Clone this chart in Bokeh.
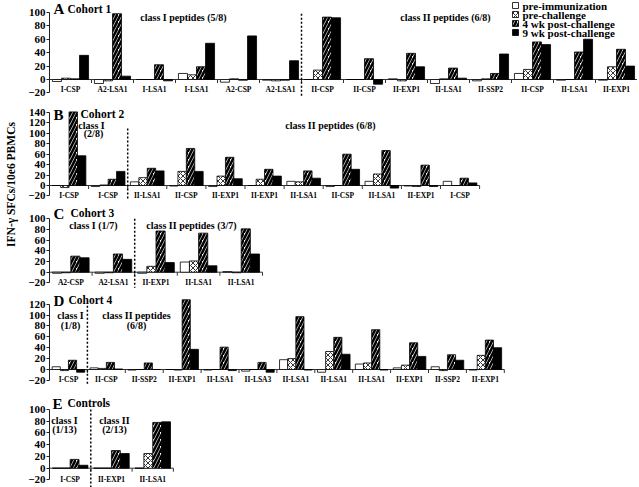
import math
from bokeh.plotting import figure
from bokeh.models import Range1d, FixedTicker, ColumnDataSource, Label
from bokeh.layouts import row, column
from bokeh.embed import file_html
from bokeh.resources import INLINE
from bokeh.core.properties import value

SERIES = ["pre-immunization", "pre-challenge", "4 wk post-challenge", "9 wk post-challenge"]
Y_LABEL = "IFN-\u03b3 SFCs/10e6 PBMCs"

# ---------------- Panel A : Cohort 1 ----------------
A_categories = ["I-CSP", "A2-LSA1", "I-LSA1", "I-LSA1", "A2-CSP", "A2-LSA1",
                "II-CSP", "II-CSP", "II-EXP1", "II-LSA1", "II-SSP2", "II-CSP", "II-LSA1", "II-EXP1"]
A_pre_immunization = [-3, -6, 0, 9, -4, -1, 0, 0, 1, -6, -2, 9, -1, -1]
A_pre_challenge = [2, -2, 0, 7, 1, -2, 14, 0, -2, 1, 1, 15, 0, 19]
A_4wk_post = [1, 98, 22, 19, -1, -1, 93, 31, 39, 17, 9, 56, 41, 45]
A_9wk_post = [36, 5, -2, 54, 65, 28, 92, -7, 19, 2, 38, 52, 60, 20]
A_class1_count = 6
A_ticks = [-20, 0, 20, 40, 60, 80, 100]

# ---------------- Panel B : Cohort 2 ----------------
B_categories = ["I-CSP", "I-CSP", "II-LSA1", "II-CSP", "II-EXP1", "II-EXP1", "II-LSA1",
                "II-CSP", "II-LSA1", "II-EXP1", "I-CSP"]
B_pre_immunization = [0, -2, 7, -1, -2, 0, 8, -2, 8, -1, 8]
B_pre_challenge = [-4, 1, 15, 27, 18, 12, 7, 0, 22, -2, 0]
B_4wk_post = [141, 12, 33, 71, 54, 31, 28, 60, 67, 39, 14]
B_9wk_post = [57, 27, 28, 27, 13, 18, 14, 31, -5, -2, 5]
B_class1_count = 2
B_ticks = [-20, 0, 20, 40, 60, 80, 100, 120, 140]

# ---------------- Panel C : Cohort 3 ----------------
C_categories = ["A2-CSP", "A2-LSA1", "II-EXP1", "II-LSA1", "II-LSA1"]
C_pre_immunization = [-2, -2, -2, 19, 1]
C_pre_challenge = [-1, -1, 11, 21, -1]
C_4wk_post = [30, 34, 77, 73, 81]
C_9wk_post = [27, 24, 18, 12, 34]
C_class1_count = 2
C_ticks = [-20, 0, 20, 40, 60, 80, 100]

# ---------------- Panel D : Cohort 4 ----------------
D_categories = ["I-CSP", "II-CSP", "II-SSP2", "II-EXP1", "II-LSA1", "II-LSA3", "II-LSA1",
                "II-LSA1", "II-LSA1", "II-EXP1", "II-SSP2", "II-EXP1"]
D_pre_immunization = [5, 3, -1, 0, -1, -3, 18, -5, 10, 3, 5, -1]
D_pre_challenge = [-2, 2, 0, -1, 0, 0, 20, 33, 12, 8, -2, 26]
D_4wk_post = [17, 13, 12, 128, 41, 13, 97, 59, 73, 49, 27, 54]
D_9wk_post = [-5, 1, 0, 37, -2, -5, -1, 28, -1, 24, 17, 40]
D_class1_count = 1
D_ticks = [-20, 0, 20, 40, 60, 80, 100, 120]

# ---------------- Panel E : Controls ----------------
E_categories = ["I-CSP", "II-EXP1", "II-LSA1"]
E_pre_immunization = [0, 0, 0]
E_pre_challenge = [0, 0, 25]
E_4wk_post = [15, 30, 78]
E_9wk_post = [5, 25, 79]
E_class1_count = 1
E_ticks = [-20, 0, 20, 40, 60, 80, 100]

FONT = "Liberation Serif"
LABEL_W = 20
AXIS_W = 29
FRAME_W = 588
LEFT = LABEL_W + AXIS_W
BAR_W = 0.215

STYLES = [
    dict(fill_color="white"),
    dict(fill_color="white", hatch_pattern="diagonal_cross", hatch_scale=5, hatch_weight=0.8, hatch_color="black"),
    dict(fill_color="white", hatch_pattern="right_diagonal_line", hatch_scale=7, hatch_weight=2.6, hatch_color="black"),
    dict(fill_color="black"),
]

# legend placement (page pixels)
LEG_X = 515
LEG_TEXT_X = 522
LEG_Y0 = 5
LEG_DY = 9


def make_panel(cats, series, ticks, n_class1, band_top, band_h, zero_y, scale, group_px,
               label_y, sep_top, sep_bottom, texts, legend=False):
    zero_top = zero_y - band_top
    top = zero_top / scale
    bottom = -(band_h - zero_top) / scale
    n = len(cats)
    p = figure(width=AXIS_W + FRAME_W, height=band_h,
               x_range=Range1d(0, FRAME_W / group_px), y_range=Range1d(bottom, top),
               output_backend="svg", toolbar_location=None,
               x_axis_location=None, y_axis_location="left",
               min_border_left=AXIS_W, min_border_right=0, min_border_top=0, min_border_bottom=0,
               outline_line_color=None)
    p.grid.visible = False
    ax = p.yaxis[0]
    ax.ticker = FixedTicker(ticks=ticks)
    ax.bounds = (ticks[0], ticks[-1])
    ax.major_tick_out = 3
    ax.major_tick_in = 0
    ax.minor_tick_out = 0
    ax.minor_tick_in = 0
    ax.major_label_standoff = 1
    ax.axis_line_color = "#222222"
    ax.major_tick_line_color = "#222222"
    ax.major_label_text_font = FONT
    ax.major_label_text_font_style = "bold"
    ax.major_label_text_font_size = "11px"
    ax.major_label_text_color = "black"

    px_x = lambda xi: (xi - LEFT) / group_px
    px_y = lambda yi: (zero_y - yi) / scale

    # baseline with group tick marks
    p.segment(x0=[0], x1=[n], y0=[0], y1=[0], line_color="#333333", line_width=1)
    p.segment(x0=list(range(n + 1)), x1=list(range(n + 1)), y0=[0] * (n + 1),
              y1=[-3.5 / scale] * (n + 1), line_color="#333333", line_width=1)

    for k, vals in enumerate(series):
        xs = [i + 0.5 + (k - 1.5) * BAR_W for i in range(n)]
        p.vbar(x=xs, top=vals, bottom=0, width=BAR_W, line_color="black",
               line_width=0.8, **STYLES[k])

    src = ColumnDataSource(dict(x=[i + 0.5 for i in range(n)], y=[label_y] * n, label=cats))
    p.text(x="x", y="y", text="label", source=src, text_font=value(FONT),
           text_font_style="bold", text_font_size="7.5px", text_align="center",
           text_baseline="middle", text_color="black")

    if sep_bottom is None:
        sep_bottom = bottom
    p.segment(x0=[n_class1], x1=[n_class1], y0=[sep_top], y1=[sep_bottom],
              line_color="black", line_width=1.5, line_dash="2 2")

    for (txt, xi, yi, size, align) in texts:
        p.add_layout(Label(x=px_x(xi), y=px_y(yi), text=txt,
                           text_font=FONT, text_font_style="bold", text_font_size=size,
                           text_align=align, text_baseline="middle", text_color="black"))

    if legend:
        for k, name in enumerate(SERIES):
            yk = LEG_Y0 + k * LEG_DY
            p.rect(x=[px_x(LEG_X)], y=[px_y(yk)], width=6, height=6,
                   width_units="screen", height_units="screen",
                   line_color="black", line_width=0.8, **STYLES[k])
            p.add_layout(Label(x=px_x(LEG_TEXT_X), y=px_y(yk), text=name,
                               text_font=FONT, text_font_style="bold", text_font_size="11px",
                               text_align="left", text_baseline="middle", text_color="black"))
    return p


pA = make_panel(A_categories, [A_pre_immunization, A_pre_challenge, A_4wk_post, A_9wk_post],
                A_ticks, A_class1_count, 0, 103, 79, 0.671, 42.0, -15, 98, -27,
                [("A", 53, 8, "15px", "left"), ("Cohort 1", 67, 8, "11.5px", "left"),
                 ("class I peptides (5/8)", 183, 17, "10px", "center"),
                 ("class II peptides (6/8)", 445, 17, "10px", "center")], legend=True)

pB = make_panel(B_categories, [B_pre_immunization, B_pre_challenge, B_4wk_post, B_9wk_post],
                B_ticks, B_class1_count, 103, 102, 185, 0.522, 39.1, -19, 109, -25,
                [("B", 53, 114, "15px", "left"), ("Cohort 2", 80, 113, "11.5px", "left"),
                 ("class I", 91, 125, "10px", "center"), ("(2/8)", 93, 133, "10px", "center"),
                 ("class II peptides (6/8)", 330, 125, "10px", "center")])

pC = make_panel(C_categories, [C_pre_immunization, C_pre_challenge, C_4wk_post, C_9wk_post],
                C_ticks, C_class1_count, 205, 87, 271.7, 0.535, 42.6, -19.5, 100, -29,
                [("C", 53, 213, "15px", "left"), ("Cohort 3", 70, 212, "11.5px", "left"),
                 ("class I (1/7)", 93, 225, "10px", "center"),
                 ("class II peptides (3/7)", 191, 225, "10px", "center")])

pD = make_panel(D_categories, [D_pre_immunization, D_pre_challenge, D_4wk_post, D_9wk_post],
                D_ticks, D_class1_count, 292, 98, 369, 0.545, 37.9, -18.5, 117, -29,
                [("D", 53, 300, "15px", "left"), ("Cohort 4", 68, 299, "11.5px", "left"),
                 ("class I", 70, 315, "10px", "center"), ("(1/8)", 70, 325, "10px", "center"),
                 ("class II peptides", 136, 315, "10px", "center"), ("(6/8)", 136, 325, "10px", "center")])

pE = make_panel(E_categories, [E_pre_immunization, E_pre_challenge, E_4wk_post, E_9wk_post],
                E_ticks, E_class1_count, 390, 97, 467.7, 0.587, 41.3, -18.5, 100, None,
                [("E", 52, 403, "15px", "left"), ("Controls", 67, 402, "11.5px", "left"),
                 ("class I", 64, 420, "10px", "center"), ("(1/13)", 64, 429, "10px", "center"),
                 ("class II", 114, 420, "10px", "center"), ("(2/13)", 114, 429, "10px", "center")])

TOTAL_H = 103 + 102 + 87 + 98 + 97
lab = figure(width=LABEL_W, height=TOTAL_H, x_range=Range1d(0, LABEL_W), y_range=Range1d(0, TOTAL_H),
             output_backend="svg", toolbar_location=None, x_axis_location=None, y_axis_location=None,
             min_border_left=0, min_border_right=0, min_border_top=0, min_border_bottom=0,
             outline_line_color=None)
lab.grid.visible = False
lab.text(x=[10], y=[TOTAL_H - 184], text=[Y_LABEL], angle=math.pi / 2, text_font=value(FONT),
         text_font_style="bold", text_font_size="11.5px", text_align="center",
         text_baseline="middle", text_color="black")

layout = row(lab, column(pA, pB, pC, pD, pE))

with open("out.html", "w") as f:
    f.write(file_html(layout, INLINE))
